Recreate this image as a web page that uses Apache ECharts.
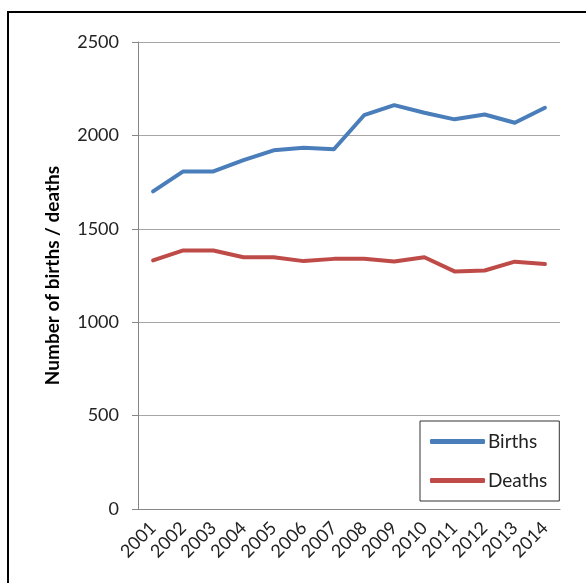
<!DOCTYPE html>
<html lang="en">
<head>
    <meta charset="UTF-8">
    <title>Births and deaths</title>
    <script src="https://cdn.jsdelivr.net/npm/echarts@6/dist/echarts.min.js"></script>
    <style>
        html, body { margin: 0; padding: 0; background: #fff; }
        #main { width: 586px; height: 583px; }
    </style>
</head>
<body>
<div id="main"></div>
<script>
    // data
    var years = ['2001', '2002', '2003', '2004', '2005', '2006', '2007',
                 '2008', '2009', '2010', '2011', '2012', '2013', '2014'];
    var births = [1700, 1807, 1807, 1868, 1920, 1934, 1926, 2108, 2162, 2121, 2086, 2112, 2068, 2148];
    var deaths = [1331, 1384, 1384, 1348, 1348, 1327, 1339, 1340, 1325, 1348, 1272, 1277, 1324, 1311];
    var yTicks = [0, 500, 1000, 1500, 2000, 2500];

    var myChart = echarts.init(document.getElementById('main'));
    var font = 'Lato, "Liberation Sans", sans-serif';

    var option = {
        animation: false,
        textStyle: { fontFamily: font },
        graphic: [{
            type: 'rect',
            shape: { x: 8, y: 12, width: 640, height: 640 },
            style: { fill: 'none', stroke: '#000', lineWidth: 2 }
        }],
        grid: { left: 138, right: 26, top: 42, bottom: 74 },
        legend: {
            orient: 'vertical',
            left: 420,
            top: 421,
            data: ['Births', 'Deaths'],
            icon: 'roundRect',
            itemWidth: 55,
            itemHeight: 5,
            itemGap: 20,
            itemStyle: { borderWidth: 0 },
            padding: [11, 12, 11, 10],
            borderColor: '#333',
            borderWidth: 1,
            textStyle: { fontSize: 19, color: '#222', fontFamily: font, padding: [0, 0, 0, -2] }
        },
        xAxis: {
            type: 'category',
            data: years,
            boundaryGap: true,
            axisLine: { lineStyle: { color: '#868686', width: 1 } },
            axisTick: { length: 6, lineStyle: { color: '#868686' } },
            axisLabel: { rotate: 45, fontSize: 18, color: '#222', margin: 16, interval: 0 }
        },
        yAxis: {
            type: 'value',
            min: yTicks[0],
            max: yTicks[yTicks.length - 1],
            interval: 500,
            name: 'Number of births / deaths',
            nameLocation: 'middle',
            nameGap: 76,
            nameTextStyle: { fontSize: 19, fontWeight: 'bold', color: '#000', fontFamily: font },
            axisLine: { show: true, lineStyle: { color: '#868686', width: 1 } },
            axisTick: { show: true, length: 6, lineStyle: { color: '#868686' } },
            axisLabel: {
                fontSize: 18, color: '#222', margin: 19,
                formatter: function (v) { return String(v); }
            },
            splitLine: { lineStyle: { color: '#a6a6a6', width: 1 } }
        },
        series: [{
            name: 'Births',
            type: 'line',
            data: births,
            showSymbol: false,
            color: '#4a7ebb',
            lineStyle: { width: 4, color: '#4a7ebb', cap: 'round', join: 'round' }
        }, {
            name: 'Deaths',
            type: 'line',
            data: deaths,
            showSymbol: false,
            color: '#be4b48',
            lineStyle: { width: 4, color: '#be4b48', cap: 'round', join: 'round' }
        }]
    };

    myChart.setOption(option);
</script>
</body>
</html>
